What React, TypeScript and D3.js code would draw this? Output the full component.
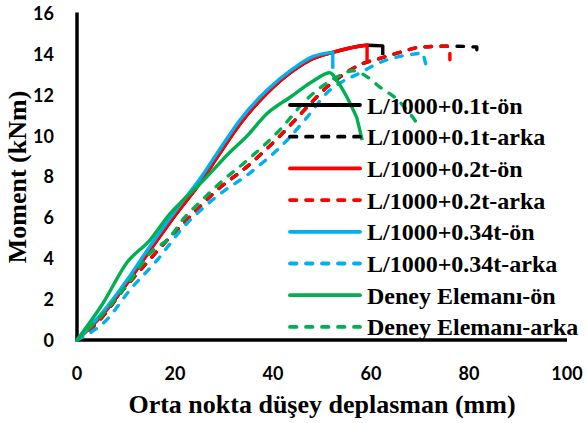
import React from "react"
import * as d3 from "d3"

// Orta nokta düşey deplasman (mm) vs Moment (kNm)
const blackOnX = [0, 5.4, 10.1, 14.9, 20.3, 25.1, 29, 33.3, 38.8, 44.1, 48.2, 52.2, 55.5, 59.2, 62.4, 62.4]
const blackOnY = [0, 1.3, 2.75, 4.4, 6.2, 7.7, 9.1, 10.6, 12.1, 13.2, 13.8, 14.1, 14.3, 14.45, 14.42, 13.97]

const blackArkaX = [0, 4.7, 9.4, 14.3, 19, 23.7, 28.6, 34.7, 41.4, 46.9, 51, 53.7, 57.8, 61.8, 65.9, 70, 74.7, 77, 81.6, 81.6]
const blackArkaY = [0, 1.0, 2.45, 3.8, 5.05, 6.2, 7.35, 8.5, 10.0, 11.4, 12.4, 12.9, 13.5, 13.8, 14.1, 14.35, 14.4, 14.4, 14.36, 13.87]

const redOnX = [0, 5.4, 10.1, 14.9, 20.3, 25.1, 29, 33.3, 38.8, 44.1, 48.2, 52.2, 55.5, 59.2, 59.2]
const redOnY = [0, 1.3, 2.75, 4.4, 6.2, 7.7, 9.1, 10.6, 12.1, 13.2, 13.8, 14.1, 14.3, 14.46, 13.58]

const redArkaX = [0, 4.7, 9.4, 14.3, 19, 23.7, 28.6, 34.7, 41.4, 46.9, 51, 53.7, 57.8, 61.8, 65.9, 70, 74.7, 76.1, 76.1]
const redArkaY = [0, 1.0, 2.45, 3.8, 5.05, 6.2, 7.35, 8.5, 10.0, 11.4, 12.4, 12.9, 13.5, 13.8, 14.1, 14.35, 14.4, 14.4, 13.5]

const blueOnX = [0, 5.4, 10.1, 14.9, 20.3, 25.1, 29, 33.3, 38.8, 44.1, 48.2, 52.2, 52.2]
const blueOnY = [0, 1.4, 2.9, 4.6, 6.4, 7.9, 9.3, 10.8, 12.25, 13.3, 13.9, 14.1, 13.3]

const blueArkaX = [0, 6.1, 10.8, 16.3, 21.6, 27.8, 35.9, 42.9, 46.9, 51.6, 53.7, 57.8, 61.8, 65.9, 70.6, 71.4]
const blueArkaY = [0, 1.0, 2.45, 3.9, 5.5, 6.9, 8.3, 9.8, 10.9, 12.25, 12.6, 13.1, 13.6, 13.9, 14.07, 13.3]

const greenOnX = [0, 5.3, 10.2, 14.9, 19, 21, 25.7, 31.2, 34.7, 38.8, 43.5, 48.2, 51.6, 53.1, 55.1, 57.1, 58.2]
const greenOnY = [0, 1.8, 3.8, 4.9, 6.2, 6.7, 7.8, 9.2, 10.0, 11.1, 11.9, 12.7, 13.1, 12.7, 11.9, 10.9, 9.8]

const greenArkaX = [0, 6.1, 10.8, 14.9, 19, 21.6, 25.7, 29.2, 34.7, 41.4, 46.9, 51, 53.1, 56.3, 59.2, 61.8, 65.3, 68.6, 70]
const greenArkaY = [0, 1.5, 2.9, 4.25, 5.05, 5.9, 6.9, 7.7, 8.8, 10.3, 11.8, 12.6, 12.9, 13.2, 12.9, 12.4, 11.8, 10.9, 10.4]

const xTicks = [0, 20, 40, 60, 80, 100]
const yTicks = [0, 2, 4, 6, 8, 10, 12, 14, 16]

const series = [
    { name: "L/1000+0.1t-ön", xs: blackOnX, ys: blackOnY, color: "#000000", dashed: false },
    { name: "L/1000+0.1t-arka", xs: blackArkaX, ys: blackArkaY, color: "#000000", dashed: true },
    { name: "L/1000+0.2t-ön", xs: redOnX, ys: redOnY, color: "#FF0000", dashed: false },
    { name: "L/1000+0.2t-arka", xs: redArkaX, ys: redArkaY, color: "#FF0000", dashed: true },
    { name: "L/1000+0.34t-ön", xs: blueOnX, ys: blueOnY, color: "#00B0F0", dashed: false },
    { name: "L/1000+0.34t-arka", xs: blueArkaX, ys: blueArkaY, color: "#00B0F0", dashed: true },
    { name: "Deney Elemanı-ön", xs: greenOnX, ys: greenOnY, color: "#00B050", dashed: false },
    { name: "Deney Elemanı-arka", xs: greenArkaX, ys: greenArkaY, color: "#00B050", dashed: true },
]

const W = 587
const H = 423
const serif = "'Liberation Serif', 'Times New Roman', serif"
const sans = "Lato, 'DejaVu Sans', sans-serif"
const dash = "6.5,9.5"

export default function App() {
    const x = d3.scaleLinear().domain([0, 100]).range([77, 567])
    const y = d3.scaleLinear().domain([0, 16]).range([340, 13.6])

    const line = d3
        .line<[number, number]>()
        .x((d) => x(d[0]))
        .y((d) => y(d[1]))
        .curve(d3.curveMonotoneX)

    const pathFor = (xs: number[], ys: number[]) => {
        const pts: [number, number][] = xs.map((v, i) => [v, ys[i]])
        // last point is a vertical drop, keep it straight
        const body = pts.slice(0, -1)
        const last = pts[pts.length - 1]
        return (line(body) || "") + "L" + x(last[0]) + "," + y(last[1])
    }

    const legendX1 = 290
    const legendX2 = 360
    const legendY0 = 105
    const legendStep = 31.7

    return (
        <svg
            width={W}
            height={H}
            style={{ position: "absolute", left: 0, top: 0, background: "#fff" }}
        >
            {/* axes */}
            <line x1={x(0)} x2={x(0)} y1={y(16) - 1} y2={y(0)} stroke="#000" strokeWidth={3.5} />
            <line x1={x(0) - 1.7} x2={x(100)} y1={y(0)} y2={y(0)} stroke="#000" strokeWidth={3.5} />

            {yTicks.map((t) => (
                <text
                    key={"y" + t}
                    x={54}
                    y={y(t) + 6.5}
                    textAnchor="end"
                    fontFamily={sans}
                    fontWeight="bold"
                    fontSize={18}
                >
                    {t}
                </text>
            ))}
            {xTicks.map((t) => (
                <text
                    key={"x" + t}
                    x={x(t)}
                    y={380}
                    textAnchor="middle"
                    fontFamily={sans}
                    fontWeight="bold"
                    fontSize={18}
                >
                    {t}
                </text>
            ))}

            <text
                x={322}
                y={413}
                textAnchor="middle"
                fontFamily={serif}
                fontWeight="bold"
                fontSize={26}
            >
                Orta nokta düşey deplasman (mm)
            </text>
            <text
                transform="translate(26,177) rotate(-90)"
                textAnchor="middle"
                fontFamily={serif}
                fontWeight="bold"
                fontSize={26}
            >
                Moment (kNm)
            </text>

            {/* curves */}
            {series.map((s) => (
                <path
                    key={s.name}
                    d={pathFor(s.xs, s.ys)}
                    fill="none"
                    stroke={s.color}
                    strokeWidth={3.4}
                    strokeDasharray={s.dashed ? dash : undefined}
                    strokeLinecap={s.dashed ? "round" : "butt"}
                    strokeLinejoin="round"
                />
            ))}

            {/* legend */}
            {series.map((s, i) => {
                const ly = legendY0 + i * legendStep
                return (
                    <g key={"lg" + s.name}>
                        <line
                            x1={legendX1}
                            x2={legendX2}
                            y1={ly}
                            y2={ly}
                            stroke={s.color}
                            strokeWidth={3.8}
                            strokeDasharray={s.dashed ? dash : undefined}
                            strokeLinecap="round"
                        />
                        <text
                            x={367}
                            y={ly + 8.5}
                            fontFamily={serif}
                            fontWeight="bold"
                            fontSize={24}
                        >
                            {s.name}
                        </text>
                    </g>
                )
            })}
        </svg>
    )
}
